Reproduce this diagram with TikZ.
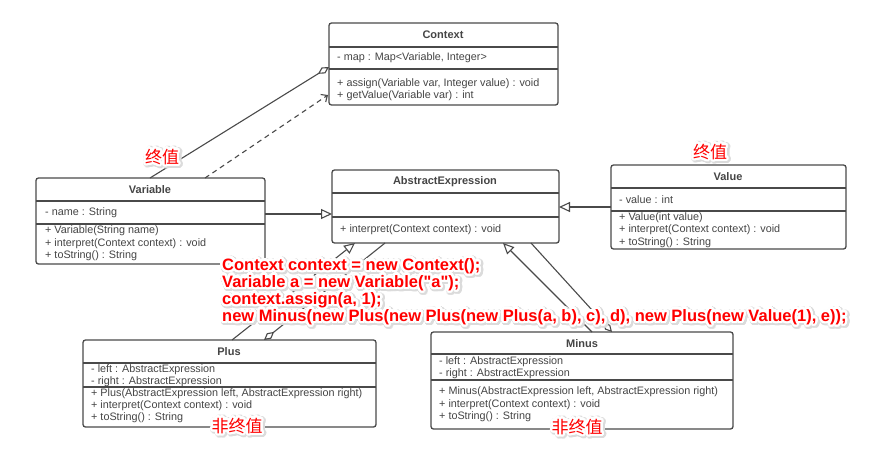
\documentclass[tikz,border=0pt]{standalone}
\usepackage{fontspec}
\setmainfont{Liberation Sans}
\newfontfamily\codefont{Liberation Sans}[Ligatures=TeXOff]
\newfontfamily\cjk{Noto Sans CJK SC}
\usepackage{contour}
\usetikzlibrary{arrows.meta,calc}
\definecolor{ln}{HTML}{4A4A4A}
\definecolor{tx}{HTML}{454545}
\definecolor{rd}{HTML}{FF0000}
\contournumber{32}
\newcommand{\halo}[1]{{\contourlength{2.4pt}\contour{white}{#1}}}
\newcommand{\shd}[1]{{\contourlength{3.4pt}\contour{black!14}{#1}}}
\begin{document}
\begin{tikzpicture}[x=1pt,y=-1pt,
  cls/.style={draw=ln, line width=1.3pt, rounded corners=2.5pt, fill=white, anchor=north west, inner sep=0pt, outer sep=0pt},
  sepl/.style={draw=ln, line width=1.3pt},
  ttl/.style={font=\fontsize{11}{13}\selectfont\bfseries, text=tx, inner sep=0pt},
  mem/.style={font=\fontsize{10.8}{13}\selectfont, text=tx, anchor=west, inner sep=0pt},
  conn/.style={draw=ln, line width=1.1pt},
  gen/.style={conn, -{Triangle[open, length=11pt, width=10pt, fill=white]}},
  agg/.style={conn, -{Diamond[open, length=13pt, width=7pt, fill=white]}},
  dep/.style={conn, dash pattern=on 5pt off 4pt, -{Straight Barb[length=5pt, width=9pt]}},
  code/.style={font=\codefont\fontsize{16.5}{17}\selectfont\bfseries, text=rd, anchor=base west, inner sep=0pt},
  codes/.style={font=\codefont\fontsize{16.5}{17}\selectfont\bfseries, text=black!14, anchor=base west, inner sep=0pt, xshift=1.2pt, yshift=-1.2pt},
  cn/.style={font=\cjk\fontsize{17}{19}\selectfont, text=rd, inner sep=0pt},
  cns/.style={font=\cjk\fontsize{17}{19}\selectfont, text=black!14, inner sep=0pt, xshift=1.2pt, yshift=-1.2pt}
]
\useasboundingbox[fill=white] (0,0) rectangle (891,458);

% class boxes
\node[cls, minimum width=229pt, minimum height=82pt] (ctx) at (329,23) {};
\node[cls, minimum width=229pt, minimum height=86pt] (var) at (36,178) {};
\node[cls, minimum width=227pt, minimum height=73pt] (abs) at (332,170) {};
\node[cls, minimum width=235pt, minimum height=84pt] (val) at (611,165) {};
\node[cls, minimum width=293pt, minimum height=87pt] (plus) at (83,340) {};
\node[cls, minimum width=302pt, minimum height=97pt] (minus) at (431,332) {};

% connectors
\draw[agg] ($(var.north west)+(114,0)$) -- ($(ctx.north west)+(0,44)$);
\draw[dep] ($(var.north west)+(169,0)$) -- ($(ctx.north west)+(-1,72)$);
\draw[gen] ($(var.north east)+(0,36)$) -- ($(abs.north west)+(0,44)$);
\draw[gen] ($(val.north west)+(0,42)$) -- ($(abs.north east)+(0,37)$);
\draw[gen] ($(plus.north west)+(149,0)$) -- ($(abs.south west)+(23,0)$);
\draw[agg] ($(abs.south west)+(53,0)$) -- ($(plus.north west)+(181,0)$);
\draw[gen] ($(minus.north west)+(161,0)$) -- ($(abs.south west)+(171,0)$);
\draw[agg] ($(abs.south west)+(199,0)$) -- ($(minus.north west)+(181,0)$);

% Context
\draw[sepl] (329,47) -- (558,47);
\draw[sepl] (329,69) -- (558,69);
\node[ttl] (ctxT) at (443,35) {Context};
\node[mem] (ctxA) at (337,58) {- map : Map<Variable, Integer>};
\node[mem] (ctxM1) at (337,84) {+ assign(Variable var, Integer value) : void};
\node[mem] (ctxM2) at (337,96) {+ getValue(Variable var) : int};

% Variable
\draw[sepl] (36,201) -- (265,201);
\draw[sepl] (36,224) -- (265,224);
\node[ttl] (varT) at (150,190) {Variable};
\node[mem] (varA) at (45,213) {- name : String};
\node[mem] (varM1) at (45,231) {+ Variable(String name)};
\node[mem] (varM2) at (45,244) {+ interpret(Context context) : void};
\node[mem] (varM3) at (45,256) {+ toString() : String};

% AbstractExpression
\draw[sepl] (332,193) -- (559,193);
\draw[sepl] (332,217) -- (559,217);
\node[ttl] (absT) at (445,182) {AbstractExpression};
\node[mem] (absM1) at (340,230) {+ interpret(Context context) : void};

% Value
\draw[sepl] (611,188) -- (846,188);
\draw[sepl] (611,211) -- (846,211);
\node[ttl] (valT) at (728,177) {Value};
\node[mem] (valA) at (619,200) {- value : int};
\node[mem] (valM1) at (619,218) {+ Value(int value)};
\node[mem] (valM2) at (619,230) {+ interpret(Context context) : void};
\node[mem] (valM3) at (619,243) {+ toString() : String};

% Plus
\draw[sepl] (83,363) -- (376,363);
\draw[sepl] (83,387) -- (376,387);
\node[ttl] (plusT) at (229,352) {Plus};
\node[mem] (plusA1) at (91,370) {- left : AbstractExpression};
\node[mem] (plusA2) at (91,382) {- right : AbstractExpression};
\node[mem] (plusM1) at (91,394) {+ Plus(AbstractExpression left, AbstractExpression right)};
\node[mem] (plusM2) at (91,406) {+ interpret(Context context) : void};
\node[mem] (plusM3) at (91,418) {+ toString() : String};

% Minus
\draw[sepl] (431,354) -- (733,354);
\draw[sepl] (431,380) -- (733,380);
\node[ttl] (minusT) at (582,344) {Minus};
\node[mem] (minusA1) at (439,362) {- left : AbstractExpression};
\node[mem] (minusA2) at (439,374) {- right : AbstractExpression};
\node[mem] (minusM1) at (439,392) {+ Minus(AbstractExpression left, AbstractExpression right)};
\node[mem] (minusM2) at (439,405) {+ interpret(Context context) : void};
\node[mem] (minusM3) at (439,417) {+ toString() : String};

% red code annotation
\node[codes] (s1) at (222,270) {\shd{Context context = new Context();}};
\node[codes] (s2) at (222,287) {\shd{Variable a = new Variable("a");}};
\node[codes] (s3) at (222,304) {\shd{context.assign(a, 1);}};
\node[codes] (s4) at (222,321) {\shd{new Minus(new Plus(new Plus(new Plus(a, b), c), d), new Plus(new Value(1), e));}};
\node[code] (c1) at (222,270) {\halo{Context context = new Context();}};
\node[code] (c2) at (222,287) {\halo{Variable a = new Variable("a");}};
\node[code] (c3) at (222,304) {\halo{context.assign(a, 1);}};
\node[code] (c4) at (222,321) {\halo{new Minus(new Plus(new Plus(new Plus(a, b), c), d), new Plus(new Value(1), e));}};

% Chinese labels
\node[cns] (l1s) at (162,158) {\shd{终值}};
\node[cns] (l2s) at (710,153) {\shd{终值}};
\node[cns] (l3s) at (237,427) {\shd{非终值}};
\node[cns] (l4s) at (577,428) {\shd{非终值}};
\node[cn] (l1) at (162,158) {\halo{终值}};
\node[cn] (l2) at (710,153) {\halo{终值}};
\node[cn] (l3) at (237,427) {\halo{非终值}};
\node[cn] (l4) at (577,428) {\halo{非终值}};
\end{tikzpicture}
\end{document}
